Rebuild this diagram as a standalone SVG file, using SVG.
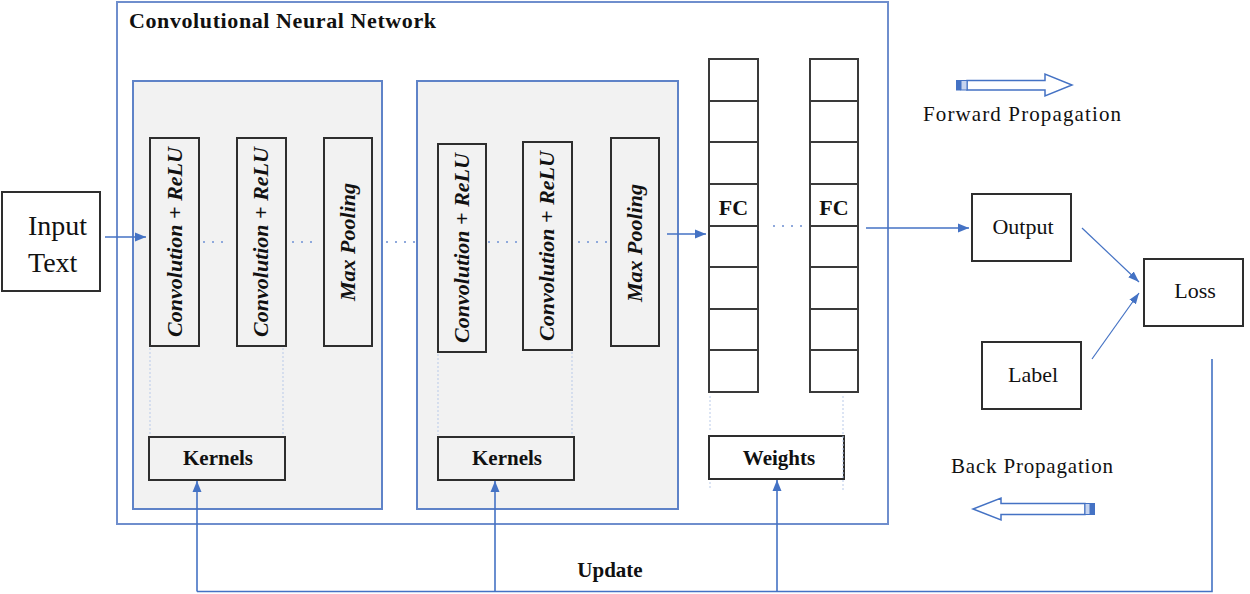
<svg xmlns="http://www.w3.org/2000/svg" width="1250" height="594" viewBox="0 0 1250 594">
  <defs>
    <marker id="arrow" markerUnits="userSpaceOnUse" markerWidth="12" markerHeight="10" refX="11" refY="5" orient="auto">
      <path d="M0,0.5 L11,5 L0,9.5 Z" fill="#4472c4"/>
    </marker>
    <marker id="arrowSmall" markerUnits="userSpaceOnUse" markerWidth="12" markerHeight="10" refX="11" refY="5" orient="auto">
      <path d="M0,1 L11,5 L0,9 Z" fill="#4472c4"/>
    </marker>
    <style>
      .frame { fill: #ffffff; stroke: #6f8ecd; stroke-width: 2; }
      .stage { fill: #f2f2f2; stroke: #5f83c8; stroke-width: 2; }
      .box { fill: #ffffff; stroke: #2e2e2e; stroke-width: 2; }
      .gbox { fill: #f2f2f2; stroke: #2e2e2e; stroke-width: 2; }
      .cell { fill: #ffffff; stroke: #3a3a3a; stroke-width: 2; }
      .t { font-family: "Liberation Serif", "Times New Roman", serif; fill: #111111; }
      .b { font-weight: bold; }
      .rot { font-family: "Liberation Serif", "Times New Roman", serif; font-weight: bold; font-style: italic; font-size: 22px; fill: #111111; text-anchor: middle; }
      .flow { fill: none; stroke: #4472c4; stroke-width: 1.6; }
      .thin { fill: none; stroke: #4472c4; stroke-width: 1.2; }
      .dots { fill: none; stroke: #8fa9dc; stroke-width: 2; stroke-dasharray: 2 7; }
      .guide { fill: none; stroke: #b9cae9; stroke-width: 1; stroke-dasharray: 2 2; }
      .legend { fill: #ffffff; stroke: #4472c4; stroke-width: 1.5; }
    </style>
  </defs>

  <rect width="1250" height="594" fill="#ffffff"/>

  <!-- network frame -->
  <g id="cnn">
    <rect class="frame" x="117" y="2" width="771" height="522"/>
    <text class="t b" x="129" y="28" font-size="22" textLength="307" lengthAdjust="spacing">Convolutional Neural Network</text>
  </g>

  <!-- first convolution stage -->
  <g id="stage1">
    <rect class="stage" x="133" y="81" width="249" height="428"/>
  </g>
  <g id="conv1">
    <rect class="gbox" x="150" y="138" width="49" height="208"/>
    <text class="rot" transform="translate(182,242) rotate(-90)">Convolution + ReLU</text>
  </g>
  <g id="conv2">
    <rect class="gbox" x="237" y="138" width="49" height="208"/>
    <text class="rot" transform="translate(268,242) rotate(-90)">Convolution + ReLU</text>
  </g>
  <g id="pool1">
    <rect class="gbox" x="324" y="138" width="48" height="208"/>
    <text class="rot" transform="translate(355,242) rotate(-90)">Max Pooling</text>
  </g>
  <g id="kernels1">
    <rect class="gbox" x="149" y="437" width="136" height="43"/>
    <text class="t b" x="218" y="465" font-size="21" text-anchor="middle">Kernels</text>
  </g>

  <!-- second convolution stage -->
  <g id="stage2">
    <rect class="stage" x="417" y="81" width="261" height="428"/>
  </g>
  <g id="conv3">
    <rect class="gbox" x="438" y="144" width="48" height="208"/>
    <text class="rot" transform="translate(469,248) rotate(-90)">Convolution + ReLU</text>
  </g>
  <g id="conv4">
    <rect class="gbox" x="523" y="142" width="49" height="208"/>
    <text class="rot" transform="translate(554,246) rotate(-90)">Convolution + ReLU</text>
  </g>
  <g id="pool2">
    <rect class="gbox" x="611" y="138" width="48" height="208"/>
    <text class="rot" transform="translate(642,243) rotate(-90)">Max Pooling</text>
  </g>
  <g id="kernels2">
    <rect class="gbox" x="438" y="437" width="136" height="43"/>
    <text class="t b" x="507" y="465" font-size="21" text-anchor="middle">Kernels</text>
  </g>

  <!-- fully connected layers -->
  <g id="fc1">
    <rect class="cell" x="709" y="59" width="49" height="42"/>
    <rect class="cell" x="709" y="101" width="49" height="41"/>
    <rect class="cell" x="709" y="142" width="49" height="42"/>
    <rect class="cell" x="709" y="184" width="49" height="42"/>
    <rect class="cell" x="709" y="226" width="49" height="41"/>
    <rect class="cell" x="709" y="267" width="49" height="42"/>
    <rect class="cell" x="709" y="309" width="49" height="41"/>
    <rect class="cell" x="709" y="350" width="49" height="42"/>
    <text class="t b" x="733.5" y="215" font-size="22" text-anchor="middle">FC</text>
  </g>
  <g id="fc2">
    <rect class="cell" x="810" y="59" width="48" height="42"/>
    <rect class="cell" x="810" y="101" width="48" height="41"/>
    <rect class="cell" x="810" y="142" width="48" height="42"/>
    <rect class="cell" x="810" y="184" width="48" height="42"/>
    <rect class="cell" x="810" y="226" width="48" height="41"/>
    <rect class="cell" x="810" y="267" width="48" height="42"/>
    <rect class="cell" x="810" y="309" width="48" height="41"/>
    <rect class="cell" x="810" y="350" width="48" height="42"/>
    <text class="t b" x="834" y="215" font-size="22" text-anchor="middle">FC</text>
  </g>
  <g id="weights">
    <rect class="box" x="709" y="436" width="135" height="43"/>
    <text class="t b" x="779" y="465" font-size="21" text-anchor="middle">Weights</text>
  </g>

  <!-- input and outputs -->
  <g id="input">
    <rect class="box" x="2" y="192" width="98" height="99"/>
    <text class="t" x="28" y="235" font-size="28">Input</text>
    <text class="t" x="28" y="272" font-size="28">Text</text>
  </g>
  <g id="output">
    <rect class="box" x="972" y="194" width="99" height="67"/>
    <text class="t" x="1023" y="234" font-size="22" text-anchor="middle">Output</text>
  </g>
  <g id="loss">
    <rect class="box" x="1144" y="259" width="99" height="67"/>
    <text class="t" x="1195" y="298" font-size="22" text-anchor="middle">Loss</text>
  </g>
  <g id="label">
    <rect class="box" x="982" y="342" width="99" height="67"/>
    <text class="t" x="1033" y="382" font-size="22" text-anchor="middle">Label</text>
  </g>

  <!-- legend -->
  <g id="forward-legend">
    <path class="legend" d="M967,80.5 L1045,80.5 L1045,74 L1072,85 L1045,96 L1045,90 L967,90 Z"/>
    <rect x="956" y="80" width="5" height="10.5" fill="#4472c4"/>
    <rect x="961" y="80.5" width="6" height="9.5" fill="#c6d4ef" stroke="#4472c4" stroke-width="1"/>
    <text class="t" x="923" y="121" font-size="21" textLength="198" lengthAdjust="spacing">Forward Propagation</text>
  </g>
  <g id="back-legend">
    <path class="legend" d="M1085,503.5 L1001,503.5 L1001,498 L973,509 L1001,520 L1001,514.5 L1085,514.5 Z"/>
    <rect x="1085" y="503.5" width="5" height="11" fill="#c6d4ef" stroke="#4472c4" stroke-width="1"/>
    <rect x="1090" y="503" width="5" height="12" fill="#4472c4"/>
    <text class="t" x="951" y="473" font-size="21" textLength="162" lengthAdjust="spacing">Back Propagation</text>
  </g>
  <g id="update-label">
    <text class="t b" x="610" y="577" font-size="21" text-anchor="middle">Update</text>
  </g>

  <!-- connectors -->
  <g id="connectors">
    <!-- forward path -->
    <line class="flow" x1="105" y1="237" x2="146" y2="237" marker-end="url(#arrow)"/>
    <line class="dots" x1="203" y1="242" x2="230" y2="242"/>
    <line class="dots" x1="292" y1="242" x2="318" y2="242"/>
    <line class="dots" x1="386" y1="242" x2="416" y2="242"/>
    <line class="dots" x1="488" y1="242" x2="520" y2="242"/>
    <line class="dots" x1="578" y1="242" x2="608" y2="242"/>
    <line class="flow" x1="667" y1="234" x2="706" y2="234" marker-end="url(#arrow)"/>
    <line class="dots" x1="773" y1="226" x2="805" y2="226"/>
    <line class="flow" x1="866" y1="228" x2="969" y2="228" marker-end="url(#arrow)"/>
    <line class="thin" x1="1082" y1="228" x2="1139" y2="282" marker-end="url(#arrowSmall)"/>
    <line class="thin" x1="1092" y1="359" x2="1139" y2="293" marker-end="url(#arrowSmall)"/>

    <!-- kernel / weight links -->
    <line class="guide" x1="150" y1="348" x2="150" y2="435"/>
    <line class="guide" x1="283" y1="348" x2="283" y2="435"/>
    <line class="guide" x1="438" y1="354" x2="438" y2="435"/>
    <line class="guide" x1="572" y1="352" x2="572" y2="435"/>
    <line class="guide" x1="710" y1="396" x2="710" y2="432"/>
    <line class="guide" x1="710" y1="482" x2="710" y2="490"/>
    <line class="guide" x1="843" y1="396" x2="843" y2="490"/>

    <!-- update loop -->
    <polyline class="flow" points="1212,359 1212,591.5 197,591.5"/>
    <line class="flow" x1="197" y1="591.5" x2="197" y2="481" marker-end="url(#arrow)"/>
    <line class="flow" x1="495" y1="591.5" x2="495" y2="481" marker-end="url(#arrow)"/>
    <line class="flow" x1="777" y1="591.5" x2="777" y2="480" marker-end="url(#arrow)"/>
  </g>
</svg>
